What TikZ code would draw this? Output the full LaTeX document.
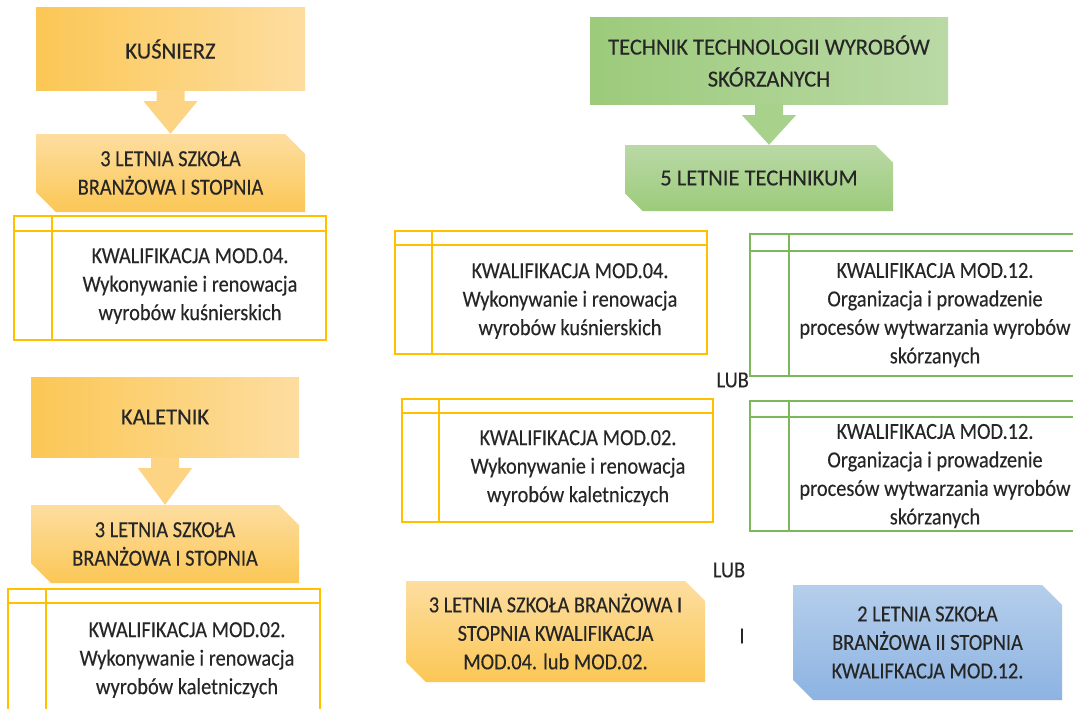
\documentclass[tikz,border=0pt]{standalone}
\usepackage{fontspec}
\setmainfont{Carlito}[FakeStretch=0.885, FakeBold=0.25]
\newfontfamily\headfont{Carlito}[FakeStretch=0.98, FakeBold=0.25]
\usetikzlibrary{shapes.misc,calc}
\definecolor{ylwdark}{HTML}{FBC755}
\definecolor{ylwlight}{HTML}{FDDDA0}
\definecolor{ylwarrow}{HTML}{FCD483}
\definecolor{grndark}{HTML}{9CCB7B}
\definecolor{grnlight}{HTML}{BAD9A6}
\definecolor{grnarrow}{HTML}{A8D18C}
\definecolor{bludark}{HTML}{8DB3E2}
\definecolor{blulight}{HTML}{B5CEEB}
\definecolor{tabylw}{HTML}{FFC000}
\definecolor{tabgrn}{HTML}{7CB85A}
\definecolor{txt}{HTML}{262626}
\tikzset{
  every node/.style={font=\fontsize{23}{28.5}\selectfont, text=txt, align=center, inner sep=0pt},
  head/.style={font=\headfont\fontsize{23}{32}\selectfont},
  job/.style={rectangle, head, left color=ylwdark, right color=ylwlight},
  jobgrn/.style={rectangle, head, left color=grndark, right color=grnlight},
  snip/.style={chamfered rectangle, chamfered rectangle corners={north east,south west},
    chamfered rectangle xsep=10pt, chamfered rectangle ysep=10pt},
  school/.style={snip, top color=ylwlight, bottom color=ylwdark},
  schoolgrn/.style={snip, head, top color=grnlight, bottom color=grndark},
  schoolblu/.style={snip, top color=blulight, bottom color=bludark},
  ytab/.style={draw=tabylw, line width=1.6pt},
  gtab/.style={draw=tabgrn, line width=1.6pt}
}
\begin{document}
\begin{tikzpicture}[x=1pt,y=-1pt]
  \clip (0,0) rectangle (1073,709);
  \fill[white] (0,0) rectangle (1073,709);
  % lewa kolumna
  \node[job, minimum width=269, minimum height=82] (kus) at (170.5,49) {KUŚNIERZ};
  \node[school, minimum width=269, minimum height=78] (szk1) at (170.5,173) {3 LETNIA SZKOŁA\\BRANŻOWA I STOPNIA};
  \node[ytab, minimum width=312, minimum height=124] (kl1) at (170,278) {};
  \node (kl1t) at (190,286) {KWALIFIKACJA MOD.04.\\Wykonywanie i renowacja\\wyrobów kuśnierskich};
  \node[job, minimum width=268, minimum height=80] (kal) at (165,417) {KALETNIK};
  \node[school, minimum width=268, minimum height=78] (szk2) at (165,544) {3 LETNIA SZKOŁA\\BRANŻOWA I STOPNIA};
  \node[ytab, minimum width=312, minimum height=124] (kl2) at (164,651) {};
  \node (kl2t) at (187,660) {KWALIFIKACJA MOD.02.\\Wykonywanie i renowacja\\wyrobów kaletniczych};
  % prawa kolumna
  \node[jobgrn, minimum width=358, minimum height=86] (tech) at (769,61) {TECHNIK TECHNOLOGII WYROBÓW\\SKÓRZANYCH};
  \node[schoolgrn, minimum width=268, minimum height=66] (tchm) at (759,178) {5 LETNIE TECHNIKUM};
  \node[ytab, minimum width=312, minimum height=123] (ty1) at (551,292.5) {};
  \node (ty1t) at (570,301) {KWALIFIKACJA MOD.04.\\Wykonywanie i renowacja\\wyrobów kuśnierskich};
  \node[gtab, minimum width=330, minimum height=142] (tg1) at (915,305) {};
  \node (tg1t) at (935,315) {KWALIFIKACJA MOD.12.\\Organizacja i prowadzenie\\procesów wytwarzania wyrobów\\skórzanych};
  \node[anchor=east] (lub1) at (749,380) {LUB};
  \node[ytab, minimum width=311, minimum height=123] (ty2) at (557.5,460.5) {};
  \node (ty2t) at (578,468) {KWALIFIKACJA MOD.02.\\Wykonywanie i renowacja\\wyrobów kaletniczych};
  \node[gtab, minimum width=330, minimum height=130] (tg2) at (915,466) {};
  \node (tg2t) at (935,476) {KWALIFIKACJA MOD.12.\\Organizacja i prowadzenie\\procesów wytwarzania wyrobów\\skórzanych};
  \node (lub2) at (729,570) {LUB};
  \node[school, minimum width=299, minimum height=101] (szk3) at (555.5,631.5) {3 LETNIA SZKOŁA BRANŻOWA I\\STOPNIA KWALIFIKACJA\\MOD.04. lub MOD.02.};
  \node (and) at (742,636) {I};
  \node[schoolblu, minimum width=269, minimum height=115] (szk4) at (927.5,642.5) {2 LETNIA SZKOŁA\\BRANŻOWA II STOPNIA\\KWALIFKACJA MOD.12.};
  % linie tabel
  \foreach \t/\c/\dx/\dy in {kl1/tabylw/39/16, kl2/tabylw/39/15, ty1/tabylw/38/15, ty2/tabylw/38/15, tg1/tabgrn/40/18, tg2/tabgrn/40/17}
    \draw[\c, line width=1.6pt] ($(\t.north west)+(0,\dy)$) -- ($(\t.north east)+(0,\dy)$)
      ($(\t.north west)+(\dx,0)$) -- ($(\t.south west)+(\dx,0)$);
  % strzalki
  \foreach \a/\b/\c in {kus/szk1/ylwarrow, kal/szk2/ylwarrow, tech/tchm/grnarrow}
    \fill[\c] ($(\a.south)+(-14,0)$) -- ($(\a.south)+(14,0)$) -- ($(\a.south)+(14,11)$)
      -- ($(\a.south)+(27,11)$) -- (\a.south |- \b.north) -- ($(\a.south)+(-27,11)$)
      -- ($(\a.south)+(-14,11)$) -- cycle;
\end{tikzpicture}
\end{document}
